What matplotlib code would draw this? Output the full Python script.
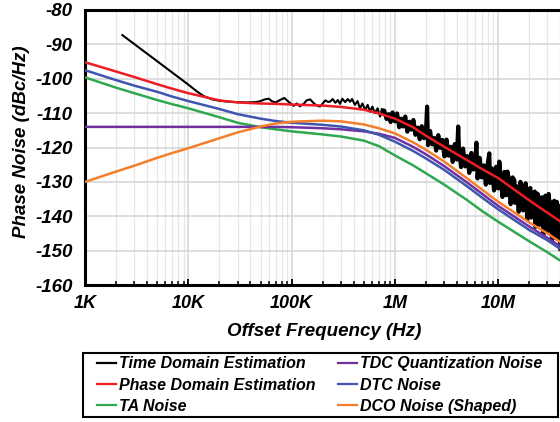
import numpy as np
import matplotlib.pyplot as plt
from matplotlib.patches import Rectangle
from matplotlib.ticker import FixedLocator, LogLocator, NullFormatter

plt.rcParams['font.family'] = ['Liberation Sans', 'DejaVu Sans']
plt.rcParams['font.weight'] = 'bold'
plt.rcParams['font.style'] = 'italic'
plt.rcParams['axes.unicode_minus'] = False

# model curves, offset frequency in Hz
freq = [1e3, 2e3, 3e3, 5e3, 7e3, 1e4, 2e4, 3e4, 5e4, 7e4, 1e5, 2e5, 3e5, 5e5, 7e5,
        1e6, 1.5e6, 2e6, 3e6, 5e6, 7e6, 1e7, 2e7, 3e7, 5e7, 1e8]
phase_domain = [-95.2, -97.9, -99.5, -101.6, -102.9, -104.2, -106.3, -106.9, -107.2, -107.3,
                -107.5, -107.8, -108.2, -109.0, -110.1, -111.6, -114.1, -116.6, -119.8,
                -123.7, -126.3, -128.9, -135.4, -139.0, -143.5, -149.5]
ta_noise = [-99.6, -102.6, -104.2, -106.2, -107.4, -108.6, -111.2, -112.8, -114.1, -114.7,
            -115.3, -116.2, -116.8, -118.0, -119.6, -122.3, -125.2, -127.5, -130.8,
            -135.3, -138.5, -141.6, -147.3, -150.5, -154.8, -160.8]
tdc_noise = [-114.0, -114.0, -114.0, -114.0, -114.0, -114.0, -114.0, -114.0, -114.0, -114.0,
             -114.1, -114.4, -114.7, -115.3, -116.0, -117.2, -119.8, -122.0, -125.4,
             -130.2, -133.5, -137.0, -143.0, -146.3, -150.7, -156.7]
dtc_noise = [-97.5, -100.4, -102.0, -103.8, -105.2, -106.5, -108.8, -110.3, -111.6, -112.3,
             -112.8, -113.4, -113.9, -115.0, -116.3, -118.3, -121.0, -123.2, -126.5,
             -131.3, -134.6, -138.0, -144.0, -147.0, -151.5, -157.5]
dco_noise = [-130.0, -127.0, -125.3, -123.0, -121.6, -120.2, -117.3, -115.6, -113.9, -113.0,
             -112.5, -112.2, -112.4, -113.3, -114.4, -115.9, -118.5, -120.7, -124.1,
             -129.0, -132.3, -135.8, -141.8, -145.0, -149.5, -155.5]

# time domain estimation (measured-like trace)
td_f_khz = [2.3, 3, 5, 7, 10, 12, 14, 17, 20, 25, 30, 37, 45, 50, 55, 60, 65, 70, 77, 85,
            96, 105, 112, 120, 130, 140, 151, 165, 175, 188, 200, 212, 224, 235, 250, 265,
            280, 294, 310, 330, 350, 368, 385, 410, 435, 459, 485, 515, 545, 574, 605, 640,
            680, 718, 760]
td_db_low = [-87.3, -89.9, -94.9, -98.2, -101.7, -103.6, -105.0, -106.0, -106.4, -106.7,
             -106.8, -106.9, -106.8, -106.5, -106.0, -105.8, -106.6, -106.9, -106.2, -105.6,
             -107.0, -107.9, -107.2, -108.0, -107.4, -106.3, -106.0, -107.2, -107.8, -108.1,
             -107.2, -106.3, -106.7, -106.7, -105.9, -107.0, -106.2, -107.3, -105.8, -106.8,
             -105.9, -106.7, -105.9, -107.6, -106.5, -108.6, -107.2, -109.1, -107.6, -109.6,
             -108.1, -110.0, -108.6, -111.0, -109.2]
td_f_mhz = [0.79, 0.83, 0.87, 0.91, 0.95, 1.00, 1.05, 1.10, 1.15, 1.20, 1.26, 1.32, 1.38,
            1.45, 1.51, 1.58, 1.66, 1.74, 1.82, 1.91, 2.00, 2.09, 2.19, 2.29, 2.40, 2.51,
            2.63, 2.75, 2.88, 3.02, 3.16, 3.31, 3.47, 3.63, 3.80, 3.98, 4.17, 4.37, 4.57,
            4.79, 5.01, 5.25, 5.50, 5.75, 6.03, 6.31, 6.61, 6.92, 7.24, 7.59, 7.94, 8.32,
            8.71, 9.12, 9.55, 10.0, 10.5, 11.0, 11.5, 12.0, 12.6, 13.2, 13.8, 14.5, 15.1,
            15.8, 16.6, 17.4, 18.2, 19.1, 20.0, 20.9, 21.9, 22.9, 24.0, 25.1, 26.3, 27.5,
            28.8, 30.2, 31.6, 33.1, 34.7, 36.3, 38.0, 39.8, 41.7]
td_db_high = [-109.3, -111.7, -110.3, -112.6, -109.8, -112.4, -110.1, -114.1, -111.6, -113.9,
              -111.0, -115.4, -112.5, -114.8, -112.0, -116.3, -114.2, -117.6, -113.8, -117.3,
              -115.2, -119.3, -115.2, -119.1, -117.2, -120.9, -116.4, -120.1, -117.8, -122.6,
              -117.7, -122.4, -119.8, -124.2, -119.0, -123.5, -120.4, -125.7, -120.3, -125.5,
              -122.5, -127.4, -121.6, -126.4, -123.0, -129.0, -123.0, -128.7, -125.2, -130.8,
              -124.5, -130.3, -126.1, -132.5, -125.6, -131.9, -127.8, -134.4, -127.1, -133.9,
              -128.8, -136.5, -128.7, -136.1, -131.3, -138.7, -130.4, -138.3, -132.1, -141.0,
              -132.0, -140.4, -134.4, -143.1, -133.4, -142.5, -135.1, -145.2, -134.8, -144.4,
              -137.2, -147.4, -136.4, -146.4, -138.0, -149.6, -138.6]
# reference spurs (harmonics of ~2.05 MHz)
spur_f_mhz = [2.05, 4.1, 6.15, 8.2, 10.25, 12.3, 14.35, 16.4, 18.45, 20.5, 22.55, 24.6,
              26.65, 28.7, 30.75, 32.8, 34.85, 36.9, 38.95]
spur_db = [-108.1, -113.9, -118.6, -121.7, -124.1, -127.0, -129.6, -130.0, -130.4, -131.8,
           -132.8, -134.3, -134.5, -134.0, -133.5, -136.0, -135.5, -135.8, -137.0]

td_f = np.concatenate([np.array(td_f_khz) * 1e3, np.array(td_f_mhz) * 1e6,
                       np.array(spur_f_mhz) * 1e6])
td_db = np.concatenate([td_db_low, td_db_high, spur_db])
order = np.argsort(td_f)
td_f, td_db = td_f[order], td_db[order]
band = td_f >= 7.5e5
cut = band.argmax() + 1

fig = plt.figure(figsize=(5.6, 4.22), dpi=100)
ax = fig.add_axes([85 / 560, 137 / 422, 516.5 / 560, 275 / 422])

# thin trace at low offsets, dense noisy band above ~750 kHz
l_td, = ax.plot(td_f[:cut], td_db[:cut], color='black', lw=1.5, zorder=3)
ax.plot(td_f[band], td_db[band], color='black', lw=3.0, zorder=3)
l_ta, = ax.plot(freq, ta_noise, color='#2fa84f', lw=1.8, zorder=4)
l_tdc, = ax.plot(freq, tdc_noise, color='#7030a0', lw=1.8, zorder=4)
l_dtc, = ax.plot(freq, dtc_noise, color='#3f56b0', lw=1.8, zorder=4)
l_dco, = ax.plot(freq, dco_noise, color='#f47f2a', lw=1.8, zorder=4)
l_pd, = ax.plot(freq, phase_domain, color='#ee1c25', lw=1.8, zorder=5)

ax.set_xscale('log')
ax.set_xlim(1e3, 1e8)
ax.set_ylim(-160, -80)
ax.set_yticks(range(-160, -79, 10))
ax.xaxis.set_major_locator(FixedLocator([1e3, 1e4, 1e5, 1e6, 1e7]))
ax.set_xticklabels(['1K', '10K', '100K', '1M', '10M'])
ax.xaxis.set_minor_locator(LogLocator(base=10, subs=np.arange(2, 10)))
ax.xaxis.set_minor_formatter(NullFormatter())

ax.grid(which='major', color='#d4d4d4', lw=1.1)
ax.grid(which='minor', axis='x', color='#e6e6e6', lw=0.9)
ax.set_axisbelow(True)

for s in ['left', 'bottom', 'top']:
    ax.spines[s].set_linewidth(2.2)
ax.spines['right'].set_visible(False)

ax.tick_params(axis='x', which='major', direction='in', length=4, width=1.3,
               labelsize=13, pad=7)
ax.tick_params(axis='x', which='minor', direction='in', length=3, width=1.1)
ax.tick_params(axis='y', length=0, labelsize=13.5, pad=9)

fig.text(324 / 560, 1 - 331 / 422, 'Offset Frequency (Hz)', ha='center', va='center',
         fontsize=13.5)
fig.text(22 / 560, 1 - 142 / 422, 'Phase Noise (dBc/Hz)', ha='center', va='center',
         rotation=90, fontsize=13.5)

# legend box
fig.patches.append(Rectangle((83 / 560, 1 - 417 / 422), 475 / 560, 64 / 422,
                             transform=fig.transFigure, facecolor='white',
                             edgecolor='black', lw=1.5, zorder=1))
handles = [l_td, l_pd, l_ta, l_tdc, l_dtc, l_dco]
labels = ['Time Domain Estimation', 'Phase Domain Estimation', 'TA Noise',
          'TDC Quantization Noise', 'DTC Noise', 'DCO Noise (Shaped)']
leg = fig.legend(handles, labels, ncol=2, loc='center', mode='expand',
                 bbox_to_anchor=(97 / 560, 1 - 417 / 422, 445 / 560, 64 / 422),
                 borderaxespad=0, borderpad=0, fontsize=11.5, handlelength=1.2,
                 handletextpad=0.15, labelspacing=0.4, frameon=False)
leg.set_zorder(2)
for h in leg.legend_handles:
    h.set_linewidth(1.6)

fig.savefig('out.png', dpi=100)
